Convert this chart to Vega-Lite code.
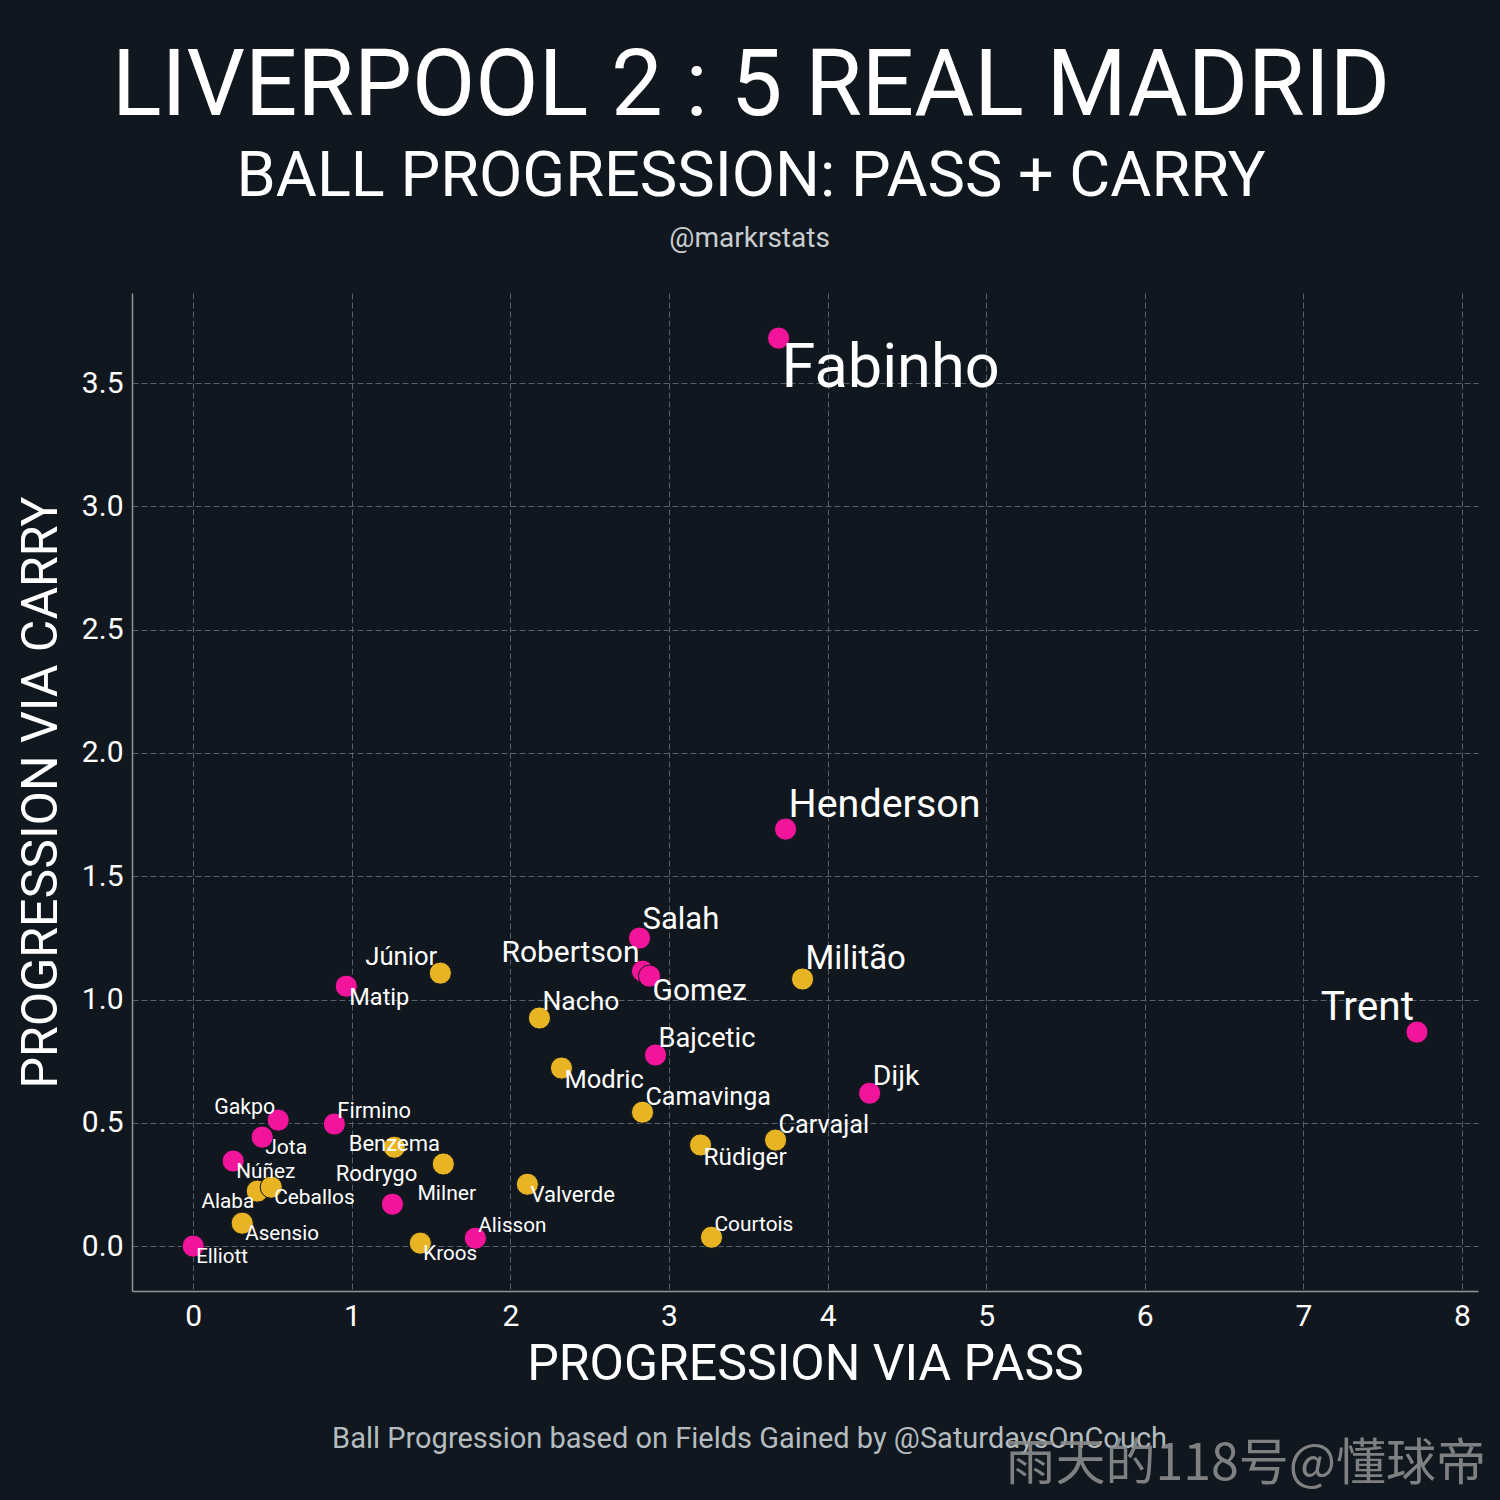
{
  "$schema": "https://vega.github.io/schema/vega-lite/v6.json",
  "width": 1346,
  "height": 998,
  "autosize": {"type": "none"},
  "padding": {"left": 132, "top": 293, "right": 22, "bottom": 209},
  "background": "#10171e",
  "title": {
    "text": "LIVERPOOL 2 : 5 REAL MADRID",
    "subtitle": "BALL PROGRESSION: PASS + CARRY",
    "anchor": "middle",
    "dx": -54,
    "offset": 15,
    "font": "Roboto",
    "fontSize": 92,
    "fontWeight": "normal",
    "color": "#ffffff",
    "subtitleFont": "Roboto",
    "subtitleFontSize": 63,
    "subtitleColor": "#ffffff",
    "subtitlePadding": 12
  },
  "datasets": {
    "players": [
      {"player": "Elliott", "team": "Liverpool", "pass": 0.0, "carry": 0.0, "label_pos": "se"},
      {"player": "Asensio", "team": "Real Madrid", "pass": 0.309, "carry": 0.093, "label_pos": "se"},
      {"player": "Alaba", "team": "Real Madrid", "pass": 0.404, "carry": 0.223, "label_pos": "sw"},
      {"player": "Ceballos", "team": "Real Madrid", "pass": 0.492, "carry": 0.239, "label_pos": "se"},
      {"player": "Núñez", "team": "Liverpool", "pass": 0.252, "carry": 0.345, "label_pos": "se"},
      {"player": "Jota", "team": "Liverpool", "pass": 0.435, "carry": 0.442, "label_pos": "se"},
      {"player": "Gakpo", "team": "Liverpool", "pass": 0.536, "carry": 0.511, "label_pos": "nw"},
      {"player": "Firmino", "team": "Liverpool", "pass": 0.89, "carry": 0.495, "label_pos": "ne"},
      {"player": "Benzema", "team": "Real Madrid", "pass": 1.268, "carry": 0.401, "label_pos": "c"},
      {"player": "Rodrygo", "team": "Real Madrid", "pass": 1.577, "carry": 0.333, "label_pos": "w"},
      {"player": "Milner", "team": "Liverpool", "pass": 1.256, "carry": 0.17, "label_pos": "e"},
      {"player": "Kroos", "team": "Real Madrid", "pass": 1.432, "carry": 0.012, "label_pos": "se"},
      {"player": "Alisson", "team": "Liverpool", "pass": 1.779, "carry": 0.032, "label_pos": "ne"},
      {"player": "Valverde", "team": "Real Madrid", "pass": 2.107, "carry": 0.251, "label_pos": "se"},
      {"player": "Courtois", "team": "Real Madrid", "pass": 3.268, "carry": 0.036, "label_pos": "ne"},
      {"player": "Rüdiger", "team": "Real Madrid", "pass": 3.199, "carry": 0.41, "label_pos": "se"},
      {"player": "Carvajal", "team": "Real Madrid", "pass": 3.672, "carry": 0.43, "label_pos": "ne"},
      {"player": "Camavinga", "team": "Real Madrid", "pass": 2.833, "carry": 0.543, "label_pos": "ne"},
      {"player": "Dijk", "team": "Liverpool", "pass": 4.265, "carry": 0.62, "label_pos": "ne"},
      {"player": "Modric", "team": "Real Madrid", "pass": 2.322, "carry": 0.722, "label_pos": "se"},
      {"player": "Bajcetic", "team": "Liverpool", "pass": 2.915, "carry": 0.775, "label_pos": "ne"},
      {"player": "Nacho", "team": "Real Madrid", "pass": 2.183, "carry": 0.925, "label_pos": "ne"},
      {"player": "Matip", "team": "Liverpool", "pass": 0.965, "carry": 1.054, "label_pos": "se"},
      {"player": "Júnior", "team": "Real Madrid", "pass": 1.558, "carry": 1.107, "label_pos": "nw"},
      {"player": "Trent", "team": "Liverpool", "pass": 7.716, "carry": 0.868, "label_pos": "nw"},
      {"player": "Militão", "team": "Real Madrid", "pass": 3.842, "carry": 1.083, "label_pos": "ne"},
      {"player": "Robertson", "team": "Liverpool", "pass": 2.833, "carry": 1.115, "label_pos": "nw"},
      {"player": "Gomez", "team": "Liverpool", "pass": 2.877, "carry": 1.095, "label_pos": "se"},
      {"player": "Salah", "team": "Liverpool", "pass": 2.814, "carry": 1.249, "label_pos": "ne"},
      {"player": "Henderson", "team": "Liverpool", "pass": 3.735, "carry": 1.691, "label_pos": "ne"},
      {"player": "Fabinho", "team": "Liverpool", "pass": 3.691, "carry": 3.682, "label_pos": "se"}
    ]
  },
  "layer": [
    {
      "data": {"name": "players"},
      "mark": {"type": "circle", "size": 490, "opacity": 1, "stroke": "#10171e", "strokeWidth": 1},
      "encoding": {
        "x": {
          "field": "pass",
          "type": "quantitative",
          "scale": {"domain": [-0.386, 8.101], "nice": false, "zero": false},
          "axis": {
            "title": "PROGRESSION VIA PASS",
            "values": [0, 1, 2, 3, 4, 5, 6, 7, 8],
            "format": "d",
            "labelPadding": 10,
            "titlePadding": 8
          }
        },
        "y": {
          "field": "carry",
          "type": "quantitative",
          "scale": {"domain": [-0.182, 3.865], "nice": false, "zero": false},
          "axis": {
            "title": "PROGRESSION VIA CARRY",
            "values": [0, 0.5, 1, 1.5, 2, 2.5, 3, 3.5],
            "format": ".1f",
            "labelPadding": 9,
            "titlePadding": 15
          }
        },
        "color": {
          "field": "team",
          "type": "nominal",
          "scale": {"domain": ["Liverpool", "Real Madrid"], "range": ["#f2149b", "#e8b424"]},
          "legend": null
        }
      }
    },
    {
      "data": {"name": "players"},
      "mark": {
        "type": "text",
        "font": "Roboto",
        "color": "#ffffff",
        "baseline": "alphabetic",
        "fontSize": {"expr": "20.5 + 3 * datum.pass * datum.carry"},
        "align": {"expr": "indexof(['nw', 'sw', 'w'], datum.label_pos) >= 0 ? 'right' : datum.label_pos == 'c' ? 'center' : 'left'"},
        "dx": {"expr": "datum.label_pos == 'w' ? -26 : datum.label_pos == 'e' ? 25 : indexof(['nw', 'sw'], datum.label_pos) >= 0 ? -3 : datum.label_pos == 'c' ? 0 : 3"},
        "dy": {"expr": "(indexof(['ne', 'nw'], datum.label_pos) >= 0 ? -0.3 : datum.label_pos == 'e' ? -0.2 : datum.label_pos == 'c' ? 0.15 : datum.label_pos == 'w' ? 0.75 : 0.8) * (20.5 + 3 * datum.pass * datum.carry)"}
      },
      "encoding": {
        "x": {"field": "pass", "type": "quantitative"},
        "y": {"field": "carry", "type": "quantitative"},
        "text": {"field": "player", "type": "nominal"}
      }
    },
    {
      "data": {"values": [{"note": "@markrstats", "px": 3.508, "py": 4.051}]},
      "mark": {"type": "text", "font": "Roboto", "fontSize": 28, "color": "#c8cdd0", "align": "center", "baseline": "alphabetic"},
      "encoding": {
        "x": {"field": "px", "type": "quantitative"},
        "y": {"field": "py", "type": "quantitative"},
        "text": {"field": "note", "type": "nominal"}
      }
    },
    {
      "data": {"values": [{"note": "Ball Progression based on Fields Gained by @SaturdaysOnCouch", "px": 3.508, "py": -0.82}]},
      "mark": {"type": "text", "font": "Roboto", "fontSize": 29, "color": "#b4bcc0", "align": "center", "baseline": "alphabetic"},
      "encoding": {
        "x": {"field": "px", "type": "quantitative"},
        "y": {"field": "py", "type": "quantitative"},
        "text": {"field": "note", "type": "nominal"}
      }
    },
    {
      "data": {"values": [{"note": "雨天的118号@懂球帝", "px": 6.637, "py": -0.949}]},
      "mark": {"type": "text", "font": "Noto Sans CJK SC", "fontSize": 50, "color": "#8c8c8c", "opacity": 0.9, "align": "center", "baseline": "alphabetic"},
      "encoding": {
        "x": {"field": "px", "type": "quantitative"},
        "y": {"field": "py", "type": "quantitative"},
        "text": {"field": "note", "type": "nominal"}
      }
    }
  ],
  "config": {
    "font": "Roboto",
    "view": {"stroke": null},
    "axis": {
      "grid": true,
      "gridColor": "#52626a",
      "gridDash": [6, 3],
      "gridWidth": 1,
      "domainColor": "#8b979c",
      "domainWidth": 1.5,
      "ticks": false,
      "labelFont": "Roboto",
      "labelFontSize": 30,
      "labelColor": "#ffffff",
      "titleFont": "Roboto",
      "titleFontSize": 50,
      "titleFontWeight": "normal",
      "titleColor": "#ffffff"
    }
  }
}
